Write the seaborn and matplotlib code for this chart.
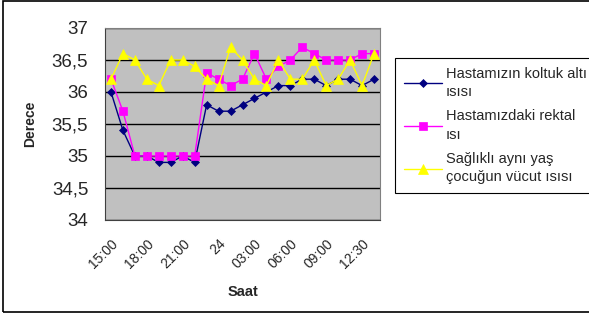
import numpy as np
import pandas as pd
import matplotlib
matplotlib.use('Agg')
import matplotlib.pyplot as plt
import matplotlib.transforms as mtransforms
from matplotlib.patches import Rectangle
import seaborn as sns

# Veriler
saat = ['15:00', '16:00', '17:00', '18:00', '19:00', '20:00', '21:00', '22:00',
        '23:00', '24', '01:00', '02:00', '03:00', '04:00', '05:00', '06:00',
        '07:00', '08:00', '09:00', '10:00', '11:00', '12:30', '13:30']
koltuk_alti = [36.0, 35.4, 35.0, 35.0, 34.9, 34.9, 35.0, 34.9, 35.8, 35.7, 35.7, 35.8,
               35.9, 36.0, 36.1, 36.1, 36.2, 36.2, 36.1, 36.2, 36.2, 36.1, 36.2]
rektal = [36.2, 35.7, 35.0, 35.0, 35.0, 35.0, 35.0, 35.0, 36.3, 36.2, 36.1, 36.2,
          36.6, 36.2, 36.4, 36.5, 36.7, 36.6, 36.5, 36.5, 36.5, 36.6, 36.6]
saglikli = [36.2, 36.6, 36.5, 36.2, 36.1, 36.5, 36.5, 36.4, 36.2, 36.1, 36.7, 36.5,
            36.2, 36.1, 36.5, 36.2, 36.2, 36.5, 36.1, 36.2, 36.5, 36.1, 36.6]
seri_adlari = ['Hastamızın koltuk altı\nısısı', 'Hastamızdaki rektal\nısı',
               'Sağlıklı aynı yaş\nçocuğun vücut ısısı']
y_ticks = [34, 34.5, 35, 35.5, 36, 36.5, 37]
y_labels = ['34', '34,5', '35', '35,5', '36', '36,5', '37']

sns.set_style('white')
plt.rcParams['font.family'] = ['Liberation Sans', 'DejaVu Sans']

df = pd.DataFrame({'idx': np.arange(len(saat)), 'saat': saat,
                   'koltuk': koltuk_alti, 'rektal': rektal, 'saglikli': saglikli})

fig = plt.figure(figsize=(5.89, 3.26), dpi=100)
ax = fig.add_axes([105/589, 1 - 220/326, 275/589, 192/326])
ax.set_facecolor('#C0C0C0')

stiller = [('koltuk', '#000080', 'D', 4.5),
           ('rektal', '#FF00FF', 's', 6),
           ('saglikli', '#FFFF00', '^', 7)]
for (kol, renk, mk, ms), ad in zip(stiller, seri_adlari):
    sns.lineplot(data=df, x='idx', y=kol, ax=ax, color=renk, marker=mk,
                 markersize=ms, markeredgecolor=renk, markeredgewidth=0.5,
                 linewidth=1, label=ad)

ax.set_xlim(-0.5, len(saat) - 0.5)
ax.set_ylim(34, 37)
ax.set_yticks(y_ticks)
ax.set_yticklabels(y_labels, fontsize=13.5)
ax.yaxis.grid(True, color='black', linewidth=1)
ax.set_axisbelow(True)

pos = np.arange(0, len(saat), 3)
ax.set_xticks(pos)
ax.set_xticklabels([saat[i] for i in pos], rotation=45, ha='right', va='top',
                   rotation_mode='anchor', fontsize=10)
kaydir = mtransforms.ScaledTranslation(-8/100, 0, fig.dpi_scale_trans)
for lbl in ax.get_xticklabels():
    lbl.set_transform(lbl.get_transform() + kaydir)
ax.set_xticks(np.arange(-0.5, len(saat), 1), minor=True)
ax.tick_params(axis='x', which='major', length=0, pad=12)
ax.tick_params(axis='x', which='minor', length=4, direction='out', width=0.8)
ax.tick_params(axis='y', length=5, direction='out', width=0.8, pad=7)

for s in ['top', 'right']:
    ax.spines[s].set_color('#808080')
    ax.spines[s].set_linewidth(0.8)
for s in ['left', 'bottom']:
    ax.spines[s].set_color('#404040')
    ax.spines[s].set_linewidth(0.8)

ax.set_xlabel('Saat', fontsize=10.5, fontweight='bold')
ax.set_ylabel('Derece', fontsize=10, fontweight='bold')
ax.xaxis.set_label_coords(0.5, -(284.5 - 220) / 192)
ax.xaxis.label.set_va('top')
ax.yaxis.set_label_coords(-(105 - 37) / 275, 0.5)

leg = ax.legend(loc='upper left', bbox_to_anchor=(395/589, 1 - 58/326),
                bbox_transform=fig.transFigure, fontsize=10.5, frameon=True,
                fancybox=False, edgecolor='black', framealpha=1, borderaxespad=0,
                handlelength=2.6, borderpad=0.6, labelspacing=0.7, handletextpad=0.3)
leg.get_frame().set_linewidth(0.8)
for t in leg.get_texts():
    t.set_linespacing(1.4)

# Dış çerçeve
fig.patches.append(Rectangle((3/589, 14/326), 1.0, 311/326, transform=fig.transFigure,
                             fill=False, edgecolor='black', linewidth=1.2))

plt.savefig('out.png', dpi=100)
